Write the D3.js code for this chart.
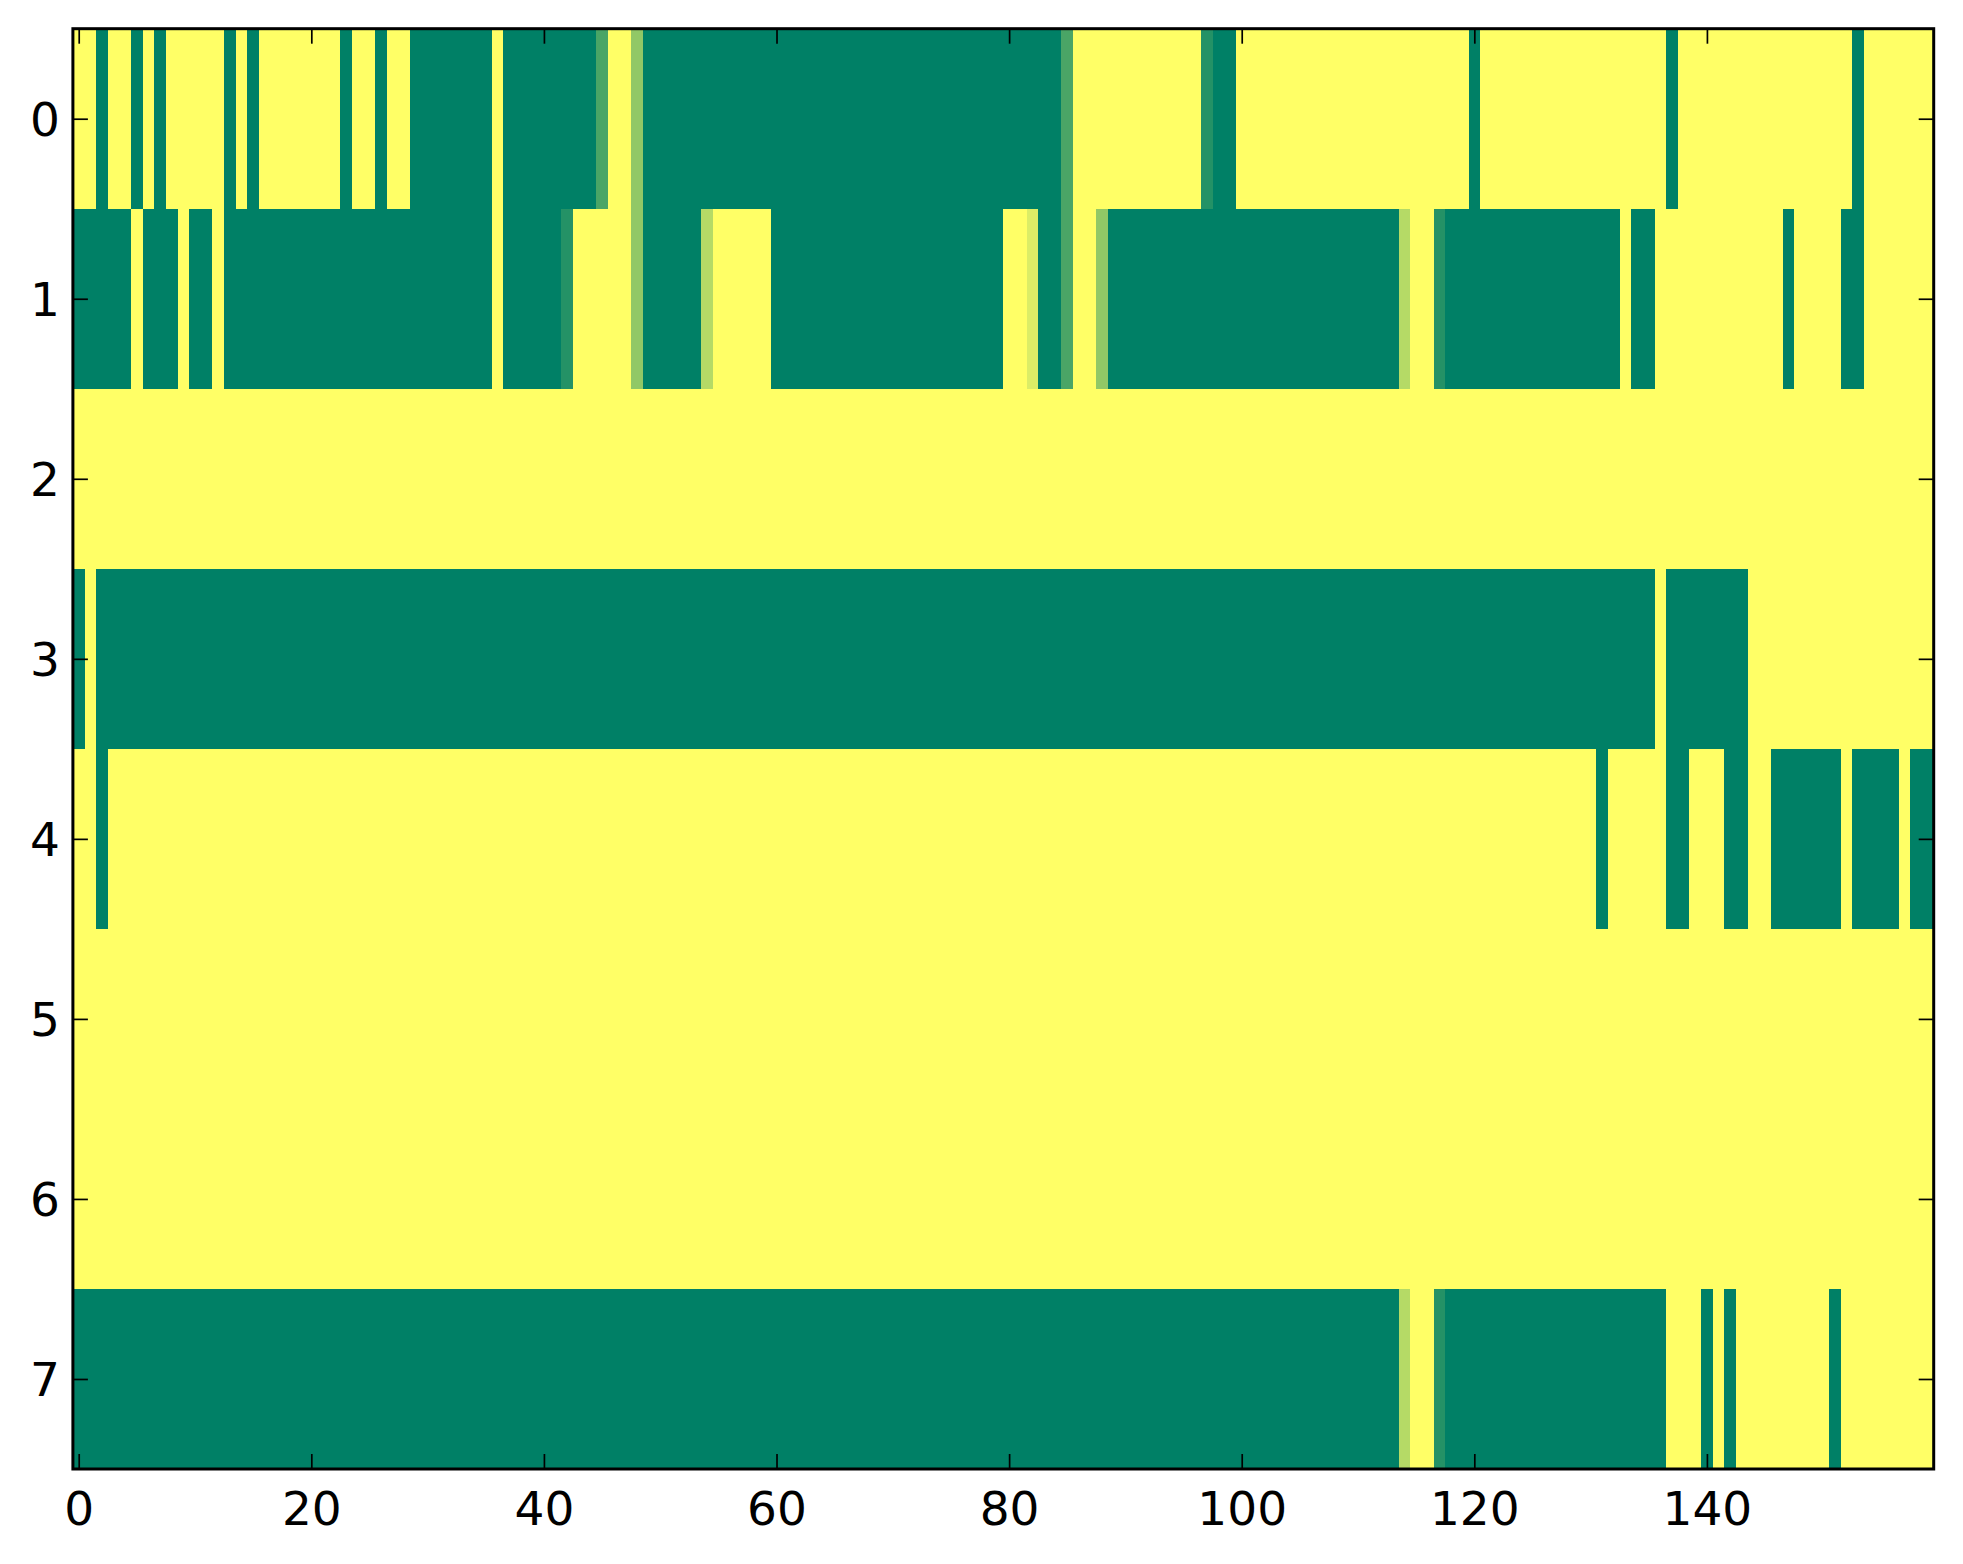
<!DOCTYPE html>
<html>
<head>
<meta charset="utf-8">
<script src="https://cdn.jsdelivr.net/npm/d3@7"></script>
<style>
  body { margin: 0; background: #fff; }
  svg { display: block; }
  .tick text { font-family: "DejaVu Sans", sans-serif; font-size: 47px; fill: #000; }
</style>
</head>
<body>
<svg id="chart" width="1963" height="1564"></svg>
<script>
// values per row (0 = dark green, 1 = yellow)
const row0 = [1,1,0,1,1,0,1,0,1,1, 1,1,1,0,1,0,1,1,1,1, 1,1,1,0,1,1,0,1,1,0, 0,0,0,0,0,0,1,0,0,0,
  0,0,0,0,0,.29,1,1,.57,0, 0,0,0,0,0,0,0,0,0,0, 0,0,0,0,0,0,0,0,0,0, 0,0,0,0,0,0,0,0,0,0,
  0,0,0,0,0,.29,1,1,1,1, 1,1,1,1,1,1,1,.14,0,0, 1,1,1,1,1,1,1,1,1,1, 1,1,1,1,1,1,1,1,1,1,
  0,1,1,1,1,1,1,1,1,1, 1,1,1,1,1,1,1,0,1,1, 1,1,1,1,1,1,1,1,1,1, 1,1,1,0,1,1,1,1,1,1];
const row1 = [0,0,0,0,0,1,0,0,0,1, 0,0,1,0,0,0,0,0,0,0, 0,0,0,0,0,0,0,0,0,0, 0,0,0,0,0,0,1,0,0,0,
  0,0,.14,1,1,1,1,1,.57,0, 0,0,0,0,.71,1,1,1,1,1, 0,0,0,0,0,0,0,0,0,0, 0,0,0,0,0,0,0,0,0,0,
  1,1,.86,0,0,.29,1,1,.57,0, 0,0,0,0,0,0,0,0,0,0, 0,0,0,0,0,0,0,0,0,0, 0,0,0,0,.71,1,1,.14,0,0,
  0,0,0,0,0,0,0,0,0,0, 0,0,0,1,0,0,1,1,1,1, 1,1,1,1,1,1,1,0,1,1, 1,1,0,0,1,1,1,1,1,1];
const row2 = [1,1,1,1,1,1,1,1,1,1, 1,1,1,1,1,1,1,1,1,1, 1,1,1,1,1,1,1,1,1,1, 1,1,1,1,1,1,1,1,1,1,
  1,1,1,1,1,1,1,1,1,1, 1,1,1,1,1,1,1,1,1,1, 1,1,1,1,1,1,1,1,1,1, 1,1,1,1,1,1,1,1,1,1,
  1,1,1,1,1,1,1,1,1,1, 1,1,1,1,1,1,1,1,1,1, 1,1,1,1,1,1,1,1,1,1, 1,1,1,1,1,1,1,1,1,1,
  1,1,1,1,1,1,1,1,1,1, 1,1,1,1,1,1,1,1,1,1, 1,1,1,1,1,1,1,1,1,1, 1,1,1,1,1,1,1,1,1,1];
const row3 = [0,1,0,0,0,0,0,0,0,0, 0,0,0,0,0,0,0,0,0,0, 0,0,0,0,0,0,0,0,0,0, 0,0,0,0,0,0,0,0,0,0,
  0,0,0,0,0,0,0,0,0,0, 0,0,0,0,0,0,0,0,0,0, 0,0,0,0,0,0,0,0,0,0, 0,0,0,0,0,0,0,0,0,0,
  0,0,0,0,0,0,0,0,0,0, 0,0,0,0,0,0,0,0,0,0, 0,0,0,0,0,0,0,0,0,0, 0,0,0,0,0,0,0,0,0,0,
  0,0,0,0,0,0,0,0,0,0, 0,0,0,0,0,0,1,0,0,0, 0,0,0,0,1,1,1,1,1,1, 1,1,1,1,1,1,1,1,1,1];
const row4 = [1,1,0,1,1,1,1,1,1,1, 1,1,1,1,1,1,1,1,1,1, 1,1,1,1,1,1,1,1,1,1, 1,1,1,1,1,1,1,1,1,1,
  1,1,1,1,1,1,1,1,1,1, 1,1,1,1,1,1,1,1,1,1, 1,1,1,1,1,1,1,1,1,1, 1,1,1,1,1,1,1,1,1,1,
  1,1,1,1,1,1,1,1,1,1, 1,1,1,1,1,1,1,1,1,1, 1,1,1,1,1,1,1,1,1,1, 1,1,1,1,1,1,1,1,1,1,
  1,1,1,1,1,1,1,1,1,1, 1,0,1,1,1,1,1,0,0,1, 1,1,0,0,1,1,0,0,0,0, 0,0,1,0,0,0,0,1,0,0];
const row5 = [1,1,1,1,1,1,1,1,1,1, 1,1,1,1,1,1,1,1,1,1, 1,1,1,1,1,1,1,1,1,1, 1,1,1,1,1,1,1,1,1,1,
  1,1,1,1,1,1,1,1,1,1, 1,1,1,1,1,1,1,1,1,1, 1,1,1,1,1,1,1,1,1,1, 1,1,1,1,1,1,1,1,1,1,
  1,1,1,1,1,1,1,1,1,1, 1,1,1,1,1,1,1,1,1,1, 1,1,1,1,1,1,1,1,1,1, 1,1,1,1,1,1,1,1,1,1,
  1,1,1,1,1,1,1,1,1,1, 1,1,1,1,1,1,1,1,1,1, 1,1,1,1,1,1,1,1,1,1, 1,1,1,1,1,1,1,1,1,1];
const row6 = [1,1,1,1,1,1,1,1,1,1, 1,1,1,1,1,1,1,1,1,1, 1,1,1,1,1,1,1,1,1,1, 1,1,1,1,1,1,1,1,1,1,
  1,1,1,1,1,1,1,1,1,1, 1,1,1,1,1,1,1,1,1,1, 1,1,1,1,1,1,1,1,1,1, 1,1,1,1,1,1,1,1,1,1,
  1,1,1,1,1,1,1,1,1,1, 1,1,1,1,1,1,1,1,1,1, 1,1,1,1,1,1,1,1,1,1, 1,1,1,1,1,1,1,1,1,1,
  1,1,1,1,1,1,1,1,1,1, 1,1,1,1,1,1,1,1,1,1, 1,1,1,1,1,1,1,1,1,1, 1,1,1,1,1,1,1,1,1,1];
const row7 = [0,0,0,0,0,0,0,0,0,0, 0,0,0,0,0,0,0,0,0,0, 0,0,0,0,0,0,0,0,0,0, 0,0,0,0,0,0,0,0,0,0,
  0,0,0,0,0,0,0,0,0,0, 0,0,0,0,0,0,0,0,0,0, 0,0,0,0,0,0,0,0,0,0, 0,0,0,0,0,0,0,0,0,0,
  0,0,0,0,0,0,0,0,0,0, 0,0,0,0,0,0,0,0,0,0, 0,0,0,0,0,0,0,0,0,0, 0,0,0,0,.71,1,1,.14,0,0,
  0,0,0,0,0,0,0,0,0,0, 0,0,0,0,0,0,0,1,1,1, 0,1,0,1,1,1,1,1,1,1, 1,0,1,1,1,1,1,1,1,1];
const rows = [row0, row1, row2, row3, row4, row5, row6, row7];

const xTicks = [0, 20, 40, 60, 80, 100, 120, 140];
const yTicks = [0, 1, 2, 3, 4, 5, 6, 7];

const plotLeft = 72.9, plotRight = 1933.7, plotTop = 28.7, plotBottom = 1469;
const nCols = row0.length;

const svg = d3.select('#chart');

const x = d3.scaleLinear().domain([-0.5, nCols - 0.5]).range([plotLeft, plotRight]);
const y = d3.scaleLinear().domain([-0.5, rows.length - 0.5]).range([plotTop, plotBottom]);

// matplotlib "summer" colormap
const color = d3.scaleLinear().domain([0, 1]).range(['#008066', '#ffff66']);

// flatten into cells
const cells = [];
rows.forEach((r, i) => r.forEach((v, j) => cells.push({ row: i, col: j, v: v })));

svg.append('g')
    .attr('shape-rendering', 'crispEdges')
    .selectAll('rect')
    .data(cells)
    .enter()
    .append('rect')
    .attr('x', d => x(d.col - 0.5))
    .attr('y', d => y(d.row - 0.5))
    .attr('width', d => x(d.col + 0.5) - x(d.col - 0.5) + 0.6)
    .attr('height', d => y(d.row + 0.5) - y(d.row - 0.5) + 0.6)
    .attr('fill', d => color(d.v));

const tickLen = 15;

const styleAxis = (g) => {
    g.select('.domain').remove();
    g.selectAll('.tick line').attr('stroke', '#000').attr('stroke-width', 1.7);
};

// bottom axis with labels
svg.append('g')
    .attr('transform', `translate(0,${plotBottom})`)
    .call(d3.axisBottom(x).tickValues(xTicks).tickSize(-tickLen).tickFormat(d3.format('d')))
    .call(styleAxis)
    .call(g => g.selectAll('.tick text').attr('y', 56).attr('dy', null));

// top axis, ticks only
svg.append('g')
    .attr('transform', `translate(0,${plotTop})`)
    .call(d3.axisTop(x).tickValues(xTicks).tickSize(-tickLen).tickFormat(''))
    .call(styleAxis);

// left axis with labels
svg.append('g')
    .attr('transform', `translate(${plotLeft},0)`)
    .call(d3.axisLeft(y).tickValues(yTicks).tickSize(-tickLen).tickFormat(d3.format('d')))
    .call(styleAxis)
    .call(g => g.selectAll('.tick text').attr('x', -13).attr('y', 17).attr('dy', null));

// right axis, ticks only
svg.append('g')
    .attr('transform', `translate(${plotRight},0)`)
    .call(d3.axisRight(y).tickValues(yTicks).tickSize(-tickLen).tickFormat(''))
    .call(styleAxis);

// frame
svg.append('rect')
    .attr('x', plotLeft)
    .attr('y', plotTop)
    .attr('width', plotRight - plotLeft)
    .attr('height', plotBottom - plotTop)
    .attr('fill', 'none')
    .attr('stroke', '#000')
    .attr('stroke-width', 3);
</script>
</body>
</html>
